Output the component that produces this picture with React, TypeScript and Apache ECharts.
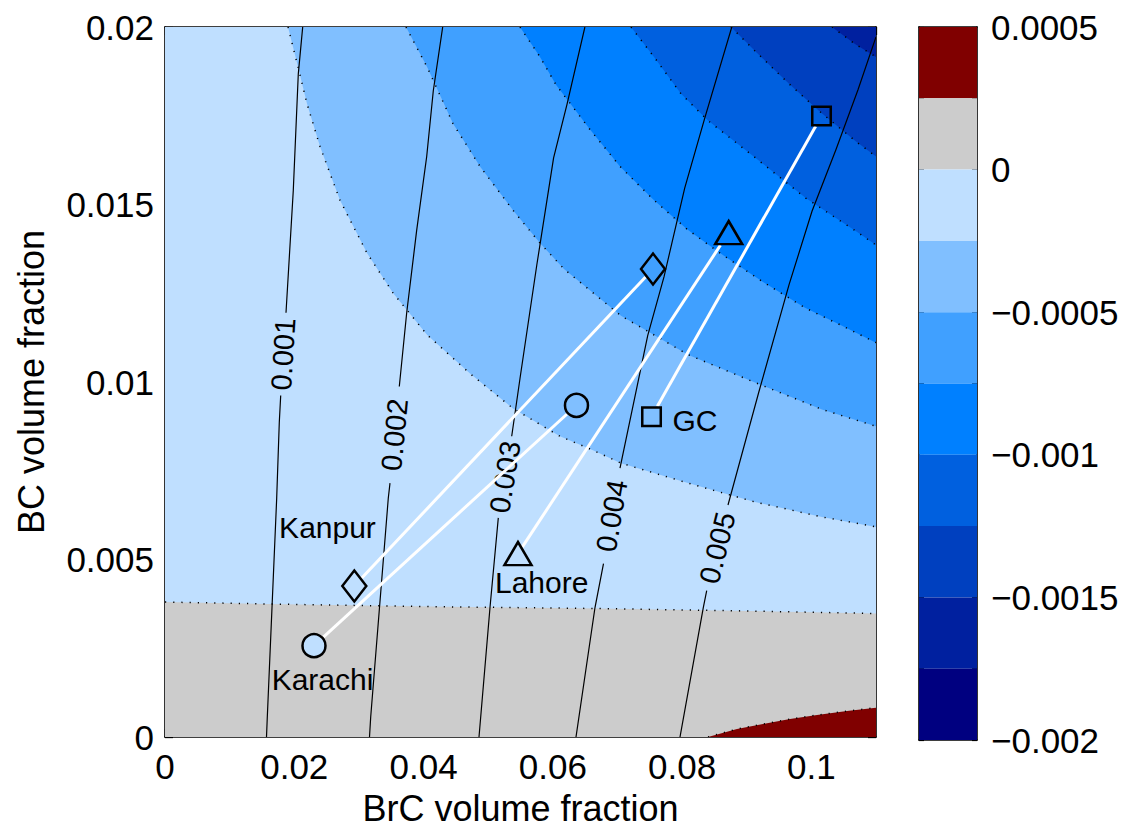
import React, { useEffect, useRef } from "react";
import * as echarts from "echarts";

// ---------- axes ----------
const X_MAX = 0.11;
const Y_MAX = 0.02;
const xTickStep = 0.02;
const yTickStep = 0.005;
const CB_MIN = -0.002;
const CB_MAX = 0.0005;
const cbTickStep = 0.00025;
const cbLabelStep = 0.0005;
const cbLevels = [0.0005, 0.00025, 0, -0.00025, -0.0005, -0.00075, -0.001, -0.00125, -0.0015, -0.00175, -0.002];

// ---------- filled-contour boundaries (BrC, BC) ----------
const boundPos025: [number, number][] = [[0.08401, 0], [0.08849, 0.000224], [0.09252, 0.000365], [0.09669, 0.000505], [0.10087, 0.000617], [0.10551, 0.000729], [0.11, 0.000827]];
const boundZero: [number, number][] = [[0, 0.003801], [0.020886, 0.003731], [0.044092, 0.003666], [0.067299, 0.003618], [0.090505, 0.003548], [0.11, 0.003478]];
const boundNeg025: [number, number][] = [[0.019029, 0.02], [0.020576, 0.018878], [0.021969, 0.01784], [0.02398, 0.016634], [0.027074, 0.015119], [0.031251, 0.013632], [0.035274, 0.01251], [0.040534, 0.011332], [0.047187, 0.010238], [0.053839, 0.009257], [0.06111, 0.008471], [0.066216, 0.008078], [0.070548, 0.007714], [0.080913, 0.007153], [0.091279, 0.00662], [0.101645, 0.006199], [0.11, 0.005919]];
const boundNeg050: [number, number][] = [[0.037285, 0.02], [0.040534, 0.018878], [0.044556, 0.017279], [0.048734, 0.016073], [0.053839, 0.014838], [0.058016, 0.013913], [0.061729, 0.013184], [0.070548, 0.011865], [0.080913, 0.010771], [0.091279, 0.009986], [0.101645, 0.009228], [0.11, 0.008752]];
const boundNeg075: [number, number][] = [[0.054922, 0.02], [0.058016, 0.019158], [0.060492, 0.018373], [0.065752, 0.017111], [0.070393, 0.016073], [0.075498, 0.015147], [0.080759, 0.014306], [0.085864, 0.013632], [0.092517, 0.012819], [0.099014, 0.01209], [0.104429, 0.011613], [0.11, 0.011108]];
const boundNeg100: [number, number][] = [[0.072095, 0.02], [0.075653, 0.019158], [0.07983, 0.01812], [0.084008, 0.017363], [0.091279, 0.016325], [0.099169, 0.015175], [0.106905, 0.014249], [0.11, 0.013857]];
const boundNeg125: [number, number][] = [[0.087566, 0.02], [0.091279, 0.019326], [0.096539, 0.018401], [0.101335, 0.017615], [0.106905, 0.016774], [0.11, 0.016353]];
const boundNeg150: [number, number][] = [[0.103192, 0.02], [0.10675, 0.019523], [0.11, 0.019158]];

// ---------- labelled contour lines (split around their labels) ----------
const isoLabels = ["0.001", "0.002", "0.003", "0.004", "0.005"];
const isoLower: [number, number][][] = [
  [[0.015703, 0], [0.015827, 0.000561], [0.017281, 0.006732], [0.017683, 0.008864], [0.0179, 0.009621]],
  [[0.031638, 0], [0.031824, 0.000561], [0.034547, 0.006732], [0.03481, 0.007153]],
  [[0.048579, 0], [0.050281, 0.003647], [0.051565, 0.006171]],
  [[0.063586, 0], [0.066525, 0.003647], [0.06784, 0.004881]],
  [[0.079676, 0], [0.083281, 0.003647], [0.083807, 0.004123]],
];
const isoUpper: [number, number][][] = [
  [[0.01872, 0.011949], [0.019849, 0.015399], [0.020623, 0.018681], [0.021304, 0.02]],
  [[0.036249, 0.009874], [0.037393, 0.011949], [0.038941, 0.014277], [0.040488, 0.016353], [0.041509, 0.018204], [0.042963, 0.02]],
  [[0.053638, 0.008471], [0.054922, 0.010098], [0.057521, 0.013296], [0.06012, 0.016311], [0.062193, 0.01782], [0.064963, 0.02]],
  [[0.070393, 0.007574], [0.074679, 0.011304], [0.0772, 0.012959], [0.080403, 0.015464], [0.083528, 0.017447], [0.08769, 0.02]],
  [[0.087102, 0.006536], [0.091852, 0.009705], [0.096539, 0.012735], [0.100098, 0.01481], [0.103811, 0.01655], [0.107215, 0.018233], [0.11, 0.019719]],
];

// ---------- sites ----------
const siteNames = ["Karachi", "Kanpur", "Lahore", "GC"];
const startBrC = [0.02305, 0.02929, 0.05461, 0.07527];
const startBC = [0.002572, 0.004255, 0.005167, 0.009024];
const endBrC = [0.06366, 0.0755, 0.08721, 0.10157];
const endBC = [0.009341, 0.01318, 0.014208, 0.017495];
const labelBrC = [0.024367, 0.02514, 0.05828, 0.081996];
const labelBC = [0.001621, 0.005891, 0.004362, 0.008911];

// ---------- styles ----------
const FONT = '"Liberation Sans", Arial, Helvetica, sans-serif';
const TICK_FONT = 35;
const TITLE_FONT = 36;
const SITE_FONT = 30;
const ISO_FONT = 29;
const cbColors = ["#800000", "#cccccc", "#bfdfff", "#80bfff", "#40a0ff", "#0080ff", "#0060df", "#0040bf", "#00209f", "#000080"];
const fillColors = ["#cccccc", "#800000", "#bfdfff", "#80bfff", "#40a0ff", "#0080ff", "#0060df", "#0040bf", "#00209f"];
const siteSymbols = ["circle", "diamond", "triangle", "rect"];
const siteSymbolSizes: [number, number][] = [[23, 23], [24, 31], [27, 23], [18.5, 18.5]];
const MARKER_STROKE = 2.5;

const fillRegions: [number, number][][] = [
  [[0, 0], [X_MAX, 0], [X_MAX, Y_MAX], [0, Y_MAX]],
  [...boundPos025, [X_MAX, 0]],
  [...boundZero, [X_MAX, Y_MAX], [0, Y_MAX]],
  [...boundNeg025, [X_MAX, Y_MAX]],
  [...boundNeg050, [X_MAX, Y_MAX]],
  [...boundNeg075, [X_MAX, Y_MAX]],
  [...boundNeg100, [X_MAX, Y_MAX]],
  [...boundNeg125, [X_MAX, Y_MAX]],
  [...boundNeg150, [X_MAX, Y_MAX]],
];
const boundaryLines = [boundPos025, boundZero, boundNeg025, boundNeg050, boundNeg075, boundNeg100, boundNeg125, boundNeg150];

function outline(sym: string, w: number, h: number): number[][] | null {
  const a = w / 2, b = h / 2;
  if (sym === "rect") return [[-a, -b], [a, -b], [a, b], [-a, b]];
  if (sym === "diamond") return [[0, -b], [a, 0], [0, b], [-a, 0]];
  if (sym === "triangle") return [[0, -b], [a, b], [-a, b]];
  return null;
}
function rayExit(sym: string, size: [number, number], ux: number, uy: number): number {
  const verts = outline(sym, size[0], size[1]);
  if (!verts) return size[0] / 2;
  let best = Infinity;
  for (let i = 0; i < verts.length; i++) {
    const A = verts[i], B = verts[(i + 1) % verts.length];
    const dx = B[0] - A[0], dy = B[1] - A[1];
    const den = ux * dy - uy * dx;
    if (Math.abs(den) < 1e-9) continue;
    const t = (A[0] * dy - A[1] * dx) / den;
    const s = (A[0] * uy - A[1] * ux) / den;
    if (t > 0 && s >= -1e-6 && s <= 1 + 1e-6) best = Math.min(best, t);
  }
  return best === Infinity ? 0 : best;
}

function cbFormatter(v: number): string {
  const k = v / cbLabelStep;
  if (Math.abs(k - Math.round(k)) > 1e-6) return "";
  const r = parseFloat((Math.round(k) * cbLabelStep).toPrecision(4));
  return String(r === 0 ? 0 : r).replace("-", "\u2212");
}

export default function App() {
  const ref = useRef<HTMLDivElement>(null);
  useEffect(() => {
    if (!ref.current) return;
    const chart = echarts.init(ref.current, undefined, { renderer: "svg" });
    const axisLine = { show: true, onZero: false, lineStyle: { color: "#000", width: 1.6 } };
    const tick = { show: true, inside: true, length: 8, lineStyle: { color: "#000", width: 1.3 } };
    const cbTick = { show: true, inside: true, length: 5, lineStyle: { color: "#000", width: 1.2 } };
    const labelStyle = { color: "#000", fontSize: TICK_FONT, fontFamily: FONT };

    const option: any = {
      animation: false,
      backgroundColor: "#fff",
      grid: [
        { left: 165, top: 27, width: 711, height: 713 },
        { left: 919, top: 27, width: 58, height: 713 },
      ],
      xAxis: [
        {
          type: "value", gridIndex: 0, min: 0, max: X_MAX, interval: xTickStep, position: "bottom",
          axisLine, axisTick: tick, splitLine: { show: false },
          axisLabel: { ...labelStyle, margin: 12, showMaxLabel: false },
          name: "BrC volume fraction", nameLocation: "middle", nameGap: 53,
          nameTextStyle: { color: "#000", fontSize: TITLE_FONT, fontFamily: FONT },
        },
        {
          type: "value", gridIndex: 0, min: 0, max: X_MAX, interval: xTickStep, position: "top",
          axisLine, axisTick: tick, splitLine: { show: false }, axisLabel: { show: false },
        },
        {
          type: "value", gridIndex: 1, min: 0, max: 1, position: "bottom",
          axisLine, axisTick: { show: false }, splitLine: { show: false }, axisLabel: { show: false },
        },
        {
          type: "value", gridIndex: 1, min: 0, max: 1, position: "top",
          axisLine, axisTick: { show: false }, splitLine: { show: false }, axisLabel: { show: false },
        },
      ],
      yAxis: [
        {
          type: "value", gridIndex: 0, min: 0, max: Y_MAX, interval: yTickStep, position: "left",
          axisLine, axisTick: tick, splitLine: { show: false },
          axisLabel: { ...labelStyle, margin: 11 },
          name: "BC volume fraction", nameLocation: "middle", nameRotate: 90, nameGap: 116,
          nameTextStyle: { color: "#000", fontSize: TITLE_FONT, fontFamily: FONT },
        },
        {
          type: "value", gridIndex: 0, min: 0, max: Y_MAX, interval: yTickStep, position: "right",
          axisLine, axisTick: tick, splitLine: { show: false }, axisLabel: { show: false },
        },
        {
          type: "value", gridIndex: 1, min: CB_MIN, max: CB_MAX, interval: cbTickStep, position: "right",
          axisLine, axisTick: cbTick, splitLine: { show: false },
          axisLabel: { ...labelStyle, margin: 14, formatter: cbFormatter },
        },
        {
          type: "value", gridIndex: 1, min: CB_MIN, max: CB_MAX, interval: cbTickStep, position: "left",
          axisLine, axisTick: cbTick, splitLine: { show: false }, axisLabel: { show: false },
        },
      ],
      series: [
        {
          type: "custom", name: "fills", xAxisIndex: 0, yAxisIndex: 0, z: 1, silent: true, clip: true,
          data: fillRegions.map((_, i) => i),
          renderItem: (params: any, api: any) => ({
            type: "polygon",
            shape: { points: fillRegions[params.dataIndex].map((p) => api.coord(p)) },
            style: { fill: fillColors[params.dataIndex], stroke: null },
          }),
        },
        {
          type: "custom", name: "boundaries", xAxisIndex: 0, yAxisIndex: 0, z: 2, silent: true, clip: true,
          data: boundaryLines.map((_, i) => i),
          renderItem: (params: any, api: any) => ({
            type: "polyline",
            shape: { points: boundaryLines[params.dataIndex].map((p) => api.coord(p)) },
            style: { fill: null, stroke: "#000", lineWidth: 1.5, lineDash: [1.2, 7] },
          }),
        },
        {
          type: "custom", name: "iso", xAxisIndex: 0, yAxisIndex: 0, z: 3, silent: true, clip: true,
          data: isoLabels.map((_, i) => i),
          renderItem: (params: any, api: any) => {
            const i = params.dataIndex;
            const lo = isoLower[i].map((p) => api.coord(p));
            const up = isoUpper[i].map((p) => api.coord(p));
            const p1 = lo[lo.length - 1], p2 = up[0];
            const ang = Math.atan2(p1[1] - p2[1], p2[0] - p1[0]);
            return {
              type: "group",
              children: [
                { type: "polyline", shape: { points: lo }, style: { fill: null, stroke: "#000", lineWidth: 1.2 } },
                { type: "polyline", shape: { points: up }, style: { fill: null, stroke: "#000", lineWidth: 1.2 } },
                {
                  type: "text", x: (p1[0] + p2[0]) / 2, y: (p1[1] + p2[1]) / 2, rotation: ang,
                  style: { text: isoLabels[i], fill: "#000", fontSize: ISO_FONT, fontFamily: FONT, align: "center", verticalAlign: "middle" },
                },
              ],
            };
          },
        },
        {
          type: "custom", name: "links", xAxisIndex: 0, yAxisIndex: 0, z: 4, silent: true,
          data: siteNames.map((_, i) => i),
          renderItem: (params: any, api: any) => {
            const i = params.dataIndex;
            const a = api.coord([startBrC[i], startBC[i]]);
            const b = api.coord([endBrC[i], endBC[i]]);
            const dx = b[0] - a[0], dy = b[1] - a[1];
            const len = Math.hypot(dx, dy);
            const ux = dx / len, uy = dy / len;
            const sym = siteSymbols[i], sz = siteSymbolSizes[i];
            const ta = rayExit(sym, sz, ux, uy) + MARKER_STROKE / 2;
            const tb = rayExit(sym, sz, -ux, -uy) + MARKER_STROKE / 2;
            return {
              type: "line",
              shape: { x1: a[0] + ux * ta, y1: a[1] + uy * ta, x2: b[0] - ux * tb, y2: b[1] - uy * tb },
              style: { stroke: "#fff", lineWidth: 3 },
            };
          },
        },
        ...siteNames.map((name, i) => ({
          type: "scatter", name, xAxisIndex: 0, yAxisIndex: 0, z: 5, silent: true,
          symbol: siteSymbols[i], symbolSize: siteSymbolSizes[i],
          itemStyle: { color: "rgba(0,0,0,0)", borderColor: "#000", borderWidth: MARKER_STROKE, opacity: 1 },
          emphasis: { disabled: true },
          data: [
            { value: [startBrC[i], startBC[i]], itemStyle: i === 0 ? { color: "#bfdfff" } : undefined },
            { value: [endBrC[i], endBC[i]] },
          ],
        })),
        {
          type: "custom", name: "siteLabels", xAxisIndex: 0, yAxisIndex: 0, z: 6, silent: true,
          data: siteNames.map((_, i) => i),
          renderItem: (params: any, api: any) => {
            const i = params.dataIndex;
            const p = api.coord([labelBrC[i], labelBC[i]]);
            return {
              type: "text", x: p[0], y: p[1],
              style: { text: siteNames[i], fill: "#000", fontSize: SITE_FONT, fontFamily: FONT, align: "center", verticalAlign: "middle" },
            };
          },
        },
        {
          type: "custom", name: "colorbar", xAxisIndex: 2, yAxisIndex: 2, z: 1, silent: true,
          data: cbColors.map((_, i) => i),
          renderItem: (params: any, api: any) => {
            const i = params.dataIndex;
            const tl = api.coord([0, cbLevels[i]]);
            const br = api.coord([1, cbLevels[i + 1]]);
            return {
              type: "rect",
              shape: { x: tl[0], y: tl[1], width: br[0] - tl[0], height: br[1] - tl[1] },
              style: { fill: cbColors[i], stroke: null },
            };
          },
        },
      ],
    };
    chart.setOption(option);
    return () => chart.dispose();
  }, []);
  return <div ref={ref} style={{ position: "absolute", left: 0, top: 0, width: 1133, height: 831 }} />;
}
